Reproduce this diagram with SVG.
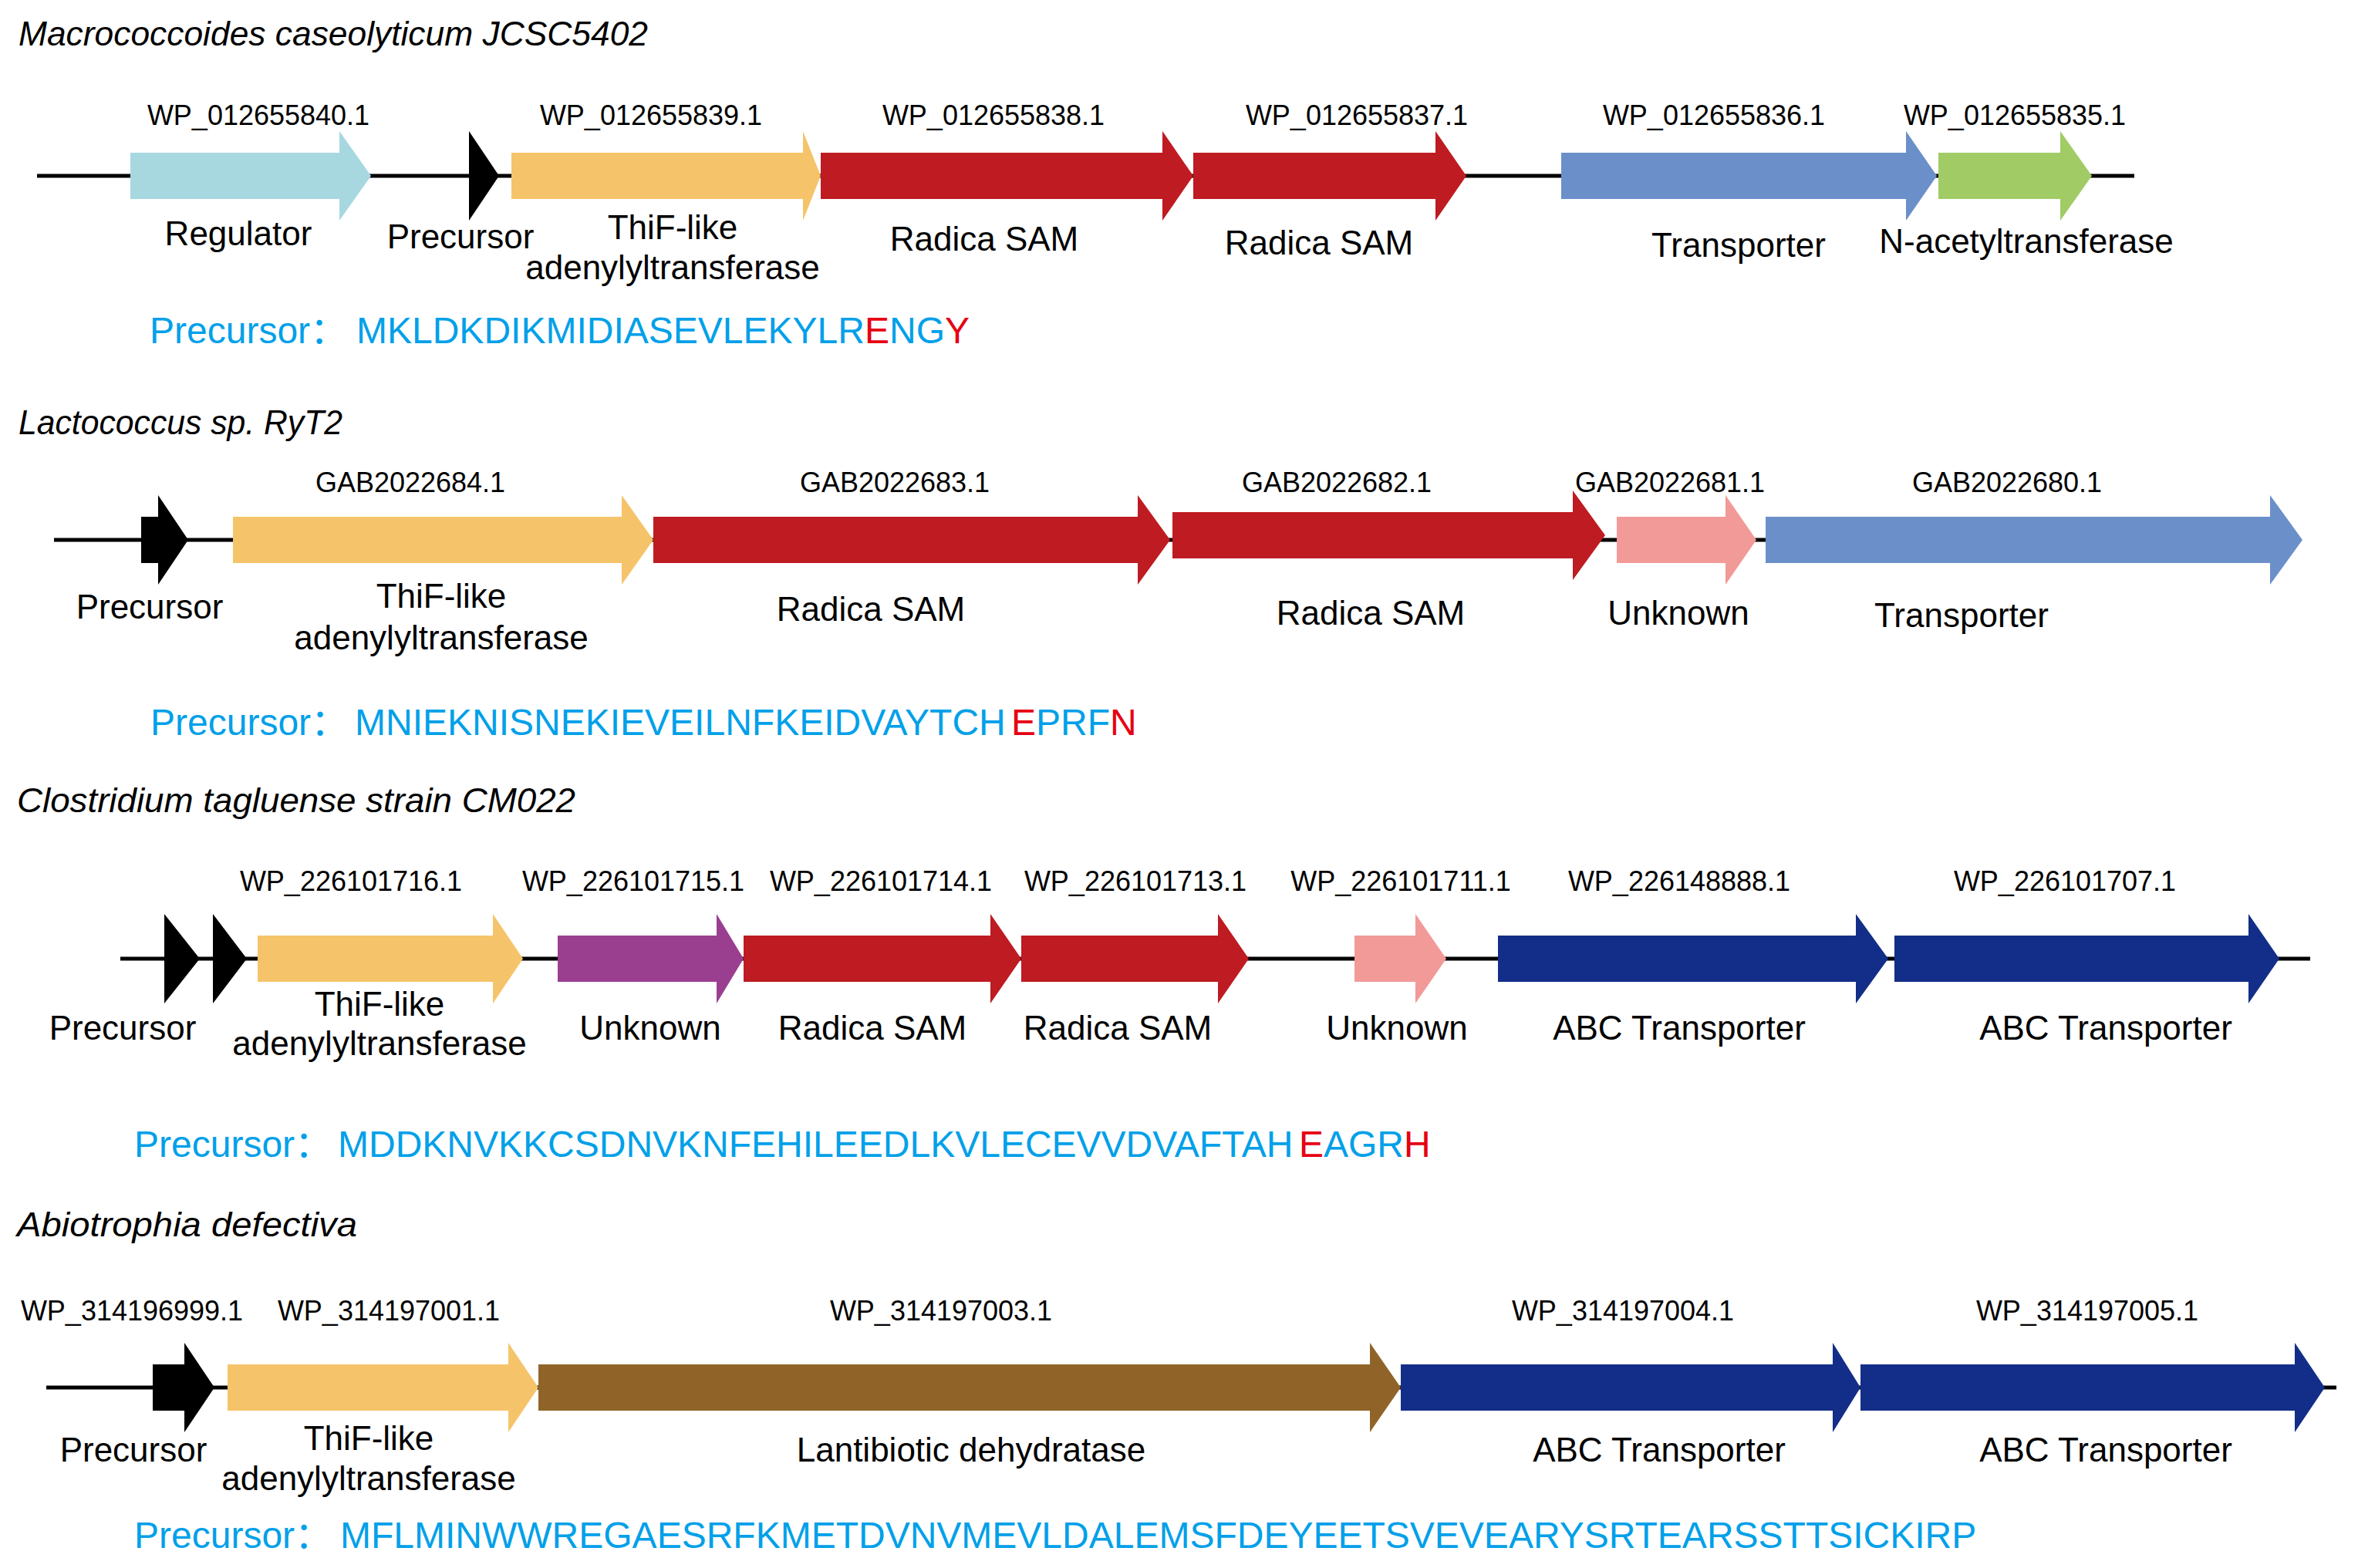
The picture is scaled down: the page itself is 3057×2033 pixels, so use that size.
<svg xmlns="http://www.w3.org/2000/svg" width="3057" height="2033" viewBox="0 0 3057 2033">
<style>
text{font-family:"Liberation Sans",Arial,"Noto Sans CJK SC",sans-serif;}
.title{font-size:44px;font-style:italic;fill:#000;}
.acc{font-size:36px;fill:#000;text-anchor:middle;}
.lbl{font-size:44px;fill:#000;text-anchor:middle;}
.seq{font-size:48px;fill:#00A0E9;}
.hl{fill:#E60012;}
.bb{stroke:#000;stroke-width:5;fill:none;}
.pre{fill:#000;}
.reg{fill:#A7D8E0;}
.thif{fill:#F5C46A;}
.rad{fill:#BE1B22;}
.tra{fill:#6B8FC9;}
.nat{fill:#A1CB65;}
.unk{fill:#F19A98;}
.pur{fill:#9A3F90;}
.abc{fill:#132E88;}
.lan{fill:#906428;}
</style>

<g id="connectors">
<line class="bb" x1="48" y1="228" x2="2767" y2="228"/>
<line class="bb" x1="70" y1="700" x2="2289" y2="700"/>
<line class="bb" x1="156" y1="1243" x2="2995" y2="1243"/>
<line class="bb" x1="60" y1="1799" x2="3029" y2="1799"/>
</g>

<g id="cluster1">
<text class="title" x="24" y="59" textLength="816" lengthAdjust="spacingAndGlyphs">Macrococcoides caseolyticum JCSC5402</text>
<g id="c1-regulator"><path class="reg" d="M169,198 H440 V170 L481,228 L440,286 V258 H169 Z"/><text class="acc" x="335" y="162">WP_012655840.1</text><text class="lbl" x="309" y="318">Regulator</text></g>
<g id="c1-precursor"><path class="pre" d="M608,170 L647,228 L608,286 Z"/><text class="lbl" x="597" y="322">Precursor</text></g>
<g id="c1-thif"><path class="thif" d="M663,198 H1041 V170 L1064,228 L1041,286 V258 H663 Z"/><text class="acc" x="844" y="162">WP_012655839.1</text><text class="lbl" x="872" y="310">ThiF-like</text><text class="lbl" x="872" y="362">adenylyltransferase</text></g>
<g id="c1-rsam1"><path class="rad" d="M1064,198 H1507 V170 L1547,228 L1507,286 V258 H1064 Z"/><text class="acc" x="1288" y="162">WP_012655838.1</text><text class="lbl" x="1276" y="325">Radica SAM</text></g>
<g id="c1-rsam2"><path class="rad" d="M1547,198 H1861 V170 L1901,228 L1861,286 V258 H1547 Z"/><text class="acc" x="1759" y="162">WP_012655837.1</text><text class="lbl" x="1710" y="330">Radica SAM</text></g>
<g id="c1-transporter"><path class="tra" d="M2024,198 H2471 V170 L2511,228 L2471,286 V258 H2024 Z"/><text class="acc" x="2222" y="162">WP_012655836.1</text><text class="lbl" x="2254" y="333">Transporter</text></g>
<g id="c1-nat"><path class="nat" d="M2513,198 H2671 V170 L2712,228 L2671,286 V258 H2513 Z"/><text class="acc" x="2612" y="162">WP_012655835.1</text><text class="lbl" x="2627" y="328">N-acetyltransferase</text></g>
<g id="c1-seq">
<text class="seq" x="194" y="445">Precursor：</text>
<text class="seq" x="462" y="445">MKLDKDIKMIDIASEVLEKYLR</text>
<text class="seq hl" x="1121" y="445">E</text>
<text class="seq" x="1153" y="445">NG</text>
<text class="seq hl" x="1225" y="445">Y</text>
</g>
</g>

<g id="cluster2">
<text class="title" x="24" y="563" textLength="420" lengthAdjust="spacingAndGlyphs">Lactococcus sp. RyT2</text>
<g id="c2-precursor"><path class="pre" d="M183,670 H205 V642 L244,700 L205,758 V730 H183 Z"/><text class="lbl" x="194" y="802">Precursor</text></g>
<g id="c2-thif"><path class="thif" d="M302,670 H806 V642 L847,700 L806,758 V730 H302 Z"/><text class="acc" x="532" y="638">GAB2022684.1</text><text class="lbl" x="572" y="788">ThiF-like</text><text class="lbl" x="572" y="842">adenylyltransferase</text></g>
<g id="c2-rsam1"><path class="rad" d="M847,670 H1475 V642 L1517,700 L1475,758 V730 H847 Z"/><text class="acc" x="1160" y="638">GAB2022683.1</text><text class="lbl" x="1129" y="805">Radica SAM</text></g>
<g id="c2-rsam2"><path class="rad" d="M1520,664 H2039 V636 L2081,694 L2039,752 V724 H1520 Z"/><text class="acc" x="1733" y="638">GAB2022682.1</text><text class="lbl" x="1777" y="810">Radica SAM</text></g>
<g id="c2-unknown"><path class="unk" d="M2096,670 H2237 V642 L2277,700 L2237,758 V730 H2096 Z"/><text class="acc" x="2165" y="638">GAB2022681.1</text><text class="lbl" x="2176" y="810">Unknown</text></g>
<g id="c2-transporter"><path class="tra" d="M2289,670 H2943 V642 L2985,700 L2943,758 V730 H2289 Z"/><text class="acc" x="2602" y="638">GAB2022680.1</text><text class="lbl" x="2543" y="813">Transporter</text></g>
<g id="c2-seq">
<text class="seq" x="195" y="953">Precursor：</text>
<text class="seq" x="460" y="953">MNIEKNISNEKIEVEILNFKEIDVAYTCH</text>
<text class="seq hl" x="1311" y="953">E</text>
<text class="seq" x="1343" y="953">PRF</text>
<text class="seq hl" x="1439" y="953">N</text>
</g>
</g>

<g id="cluster3">
<text class="title" x="22" y="1053" textLength="724" lengthAdjust="spacingAndGlyphs">Clostridium tagluense strain CM022</text>
<g id="c3-precursor"><path class="pre" d="M213,1185 L259,1243 L213,1301 Z"/><path class="pre" d="M276,1185 L320,1243 L276,1301 Z"/><text class="lbl" x="159" y="1348">Precursor</text></g>
<g id="c3-thif"><path class="thif" d="M334,1213 H639 V1185 L678,1243 L639,1301 V1273 H334 Z"/><text class="acc" x="455" y="1155">WP_226101716.1</text><text class="lbl" x="492" y="1317">ThiF-like</text><text class="lbl" x="492" y="1368">adenylyltransferase</text></g>
<g id="c3-unknown1"><path class="pur" d="M723,1213 H929 V1185 L964,1243 L929,1301 V1273 H723 Z"/><text class="acc" x="821" y="1155">WP_226101715.1</text><text class="lbl" x="843" y="1348">Unknown</text></g>
<g id="c3-rsam1"><path class="rad" d="M964,1213 H1284 V1185 L1324,1243 L1284,1301 V1273 H964 Z"/><text class="acc" x="1142" y="1155">WP_226101714.1</text><text class="lbl" x="1131" y="1348">Radica SAM</text></g>
<g id="c3-rsam2"><path class="rad" d="M1324,1213 H1579 V1185 L1619,1243 L1579,1301 V1273 H1324 Z"/><text class="acc" x="1472" y="1155">WP_226101713.1</text><text class="lbl" x="1449" y="1348">Radica SAM</text></g>
<g id="c3-unknown2"><path class="unk" d="M1756,1213 H1835 V1185 L1875,1243 L1835,1301 V1273 H1756 Z"/><text class="acc" x="1816" y="1155">WP_226101711.1</text><text class="lbl" x="1811" y="1348">Unknown</text></g>
<g id="c3-abc1"><path class="abc" d="M1942,1213 H2406 V1185 L2448,1243 L2406,1301 V1273 H1942 Z"/><text class="acc" x="2177" y="1155">WP_226148888.1</text><text class="lbl" x="2177" y="1348">ABC Transporter</text></g>
<g id="c3-abc2"><path class="abc" d="M2456,1213 H2915 V1185 L2955,1243 L2915,1301 V1273 H2456 Z"/><text class="acc" x="2677" y="1155">WP_226101707.1</text><text class="lbl" x="2730" y="1348">ABC Transporter</text></g>
<g id="c3-seq">
<text class="seq" x="174" y="1500">Precursor：</text>
<text class="seq" x="438" y="1500">MDDKNVKKCSDNVKNFEHILEEDLKVLECEVVDVAFTAH</text>
<text class="seq hl" x="1684" y="1500">E</text>
<text class="seq" x="1716" y="1500">AGR</text>
<text class="seq hl" x="1820" y="1500">H</text>
</g>
</g>

<g id="cluster4">
<text class="title" x="22" y="1603" textLength="441" lengthAdjust="spacingAndGlyphs">Abiotrophia defectiva</text>
<g id="c4-precursor"><path class="pre" d="M198,1769 H239 V1741 L278,1799 L239,1857 V1829 H198 Z"/><text class="acc" x="171" y="1712">WP_314196999.1</text><text class="lbl" x="173" y="1895">Precursor</text></g>
<g id="c4-thif"><path class="thif" d="M295,1769 H659 V1741 L698,1799 L659,1857 V1829 H295 Z"/><text class="acc" x="504" y="1712">WP_314197001.1</text><text class="lbl" x="478" y="1880">ThiF-like</text><text class="lbl" x="478" y="1932">adenylyltransferase</text></g>
<g id="c4-lan"><path class="lan" d="M698,1769 H1776 V1741 L1816,1799 L1776,1857 V1829 H698 Z"/><text class="acc" x="1220" y="1712">WP_314197003.1</text><text class="lbl" x="1259" y="1895">Lantibiotic dehydratase</text></g>
<g id="c4-abc1"><path class="abc" d="M1816,1769 H2376 V1741 L2412,1799 L2376,1857 V1829 H1816 Z"/><text class="acc" x="2104" y="1712">WP_314197004.1</text><text class="lbl" x="2151" y="1895">ABC Transporter</text></g>
<g id="c4-abc2"><path class="abc" d="M2412,1769 H2975 V1741 L3014,1799 L2975,1857 V1829 H2412 Z"/><text class="acc" x="2706" y="1712">WP_314197005.1</text><text class="lbl" x="2730" y="1895">ABC Transporter</text></g>
<g id="c4-seq">
<text class="seq" x="174" y="2007">Precursor：</text>
<text class="seq" x="441" y="2007">MFLMINWWREGAESRFKMETDVNVMEVLDALEMSFDEYEETSVEVEARYSRTEARSSTTSICKIRP</text>
</g>
</g>
</svg>
